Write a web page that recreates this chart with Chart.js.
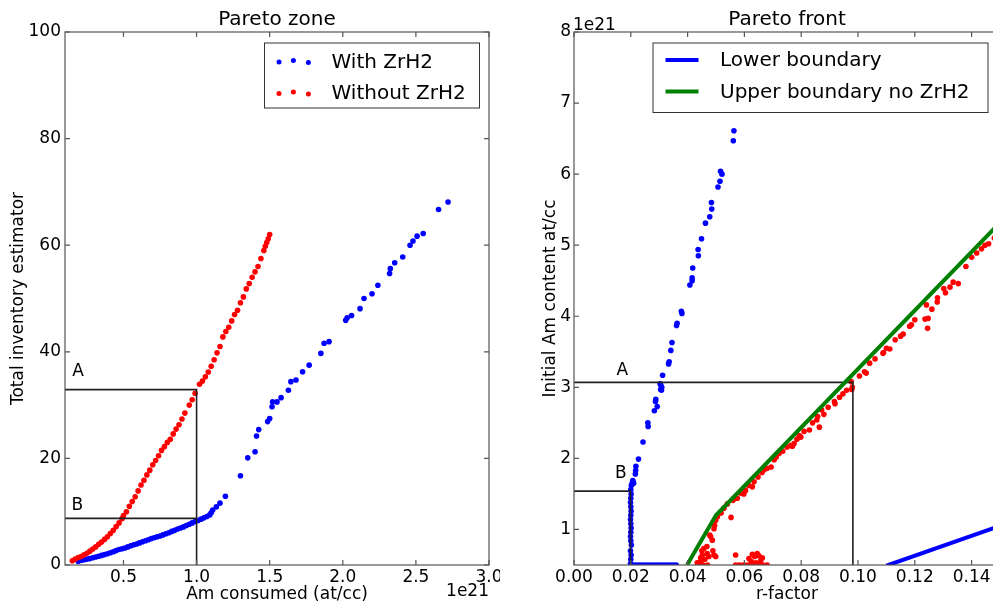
<!DOCTYPE html>
<html>
<head>
<meta charset="utf-8">
<script src="https://cdn.jsdelivr.net/npm/chart.js@4.4.0/dist/chart.umd.min.js"></script>
<style>
html, body { margin: 0; padding: 0; background: #fff; overflow: hidden; width: 993px; height: 601px; }
#zone { position: absolute; left: 0; top: 0; }
#front { position: absolute; left: 500px; top: 0; }
</style>
</head>
<body>
<canvas id="zone" width="500" height="601"></canvas>
<canvas id="front" width="520" height="601"></canvas>
<script>
//****** Pareto zone: Am consumed (x1e21) vs total inventory estimator ******
var withZrX = [0.19,0.21,0.23,0.25,0.27,0.29,0.31,0.33,0.35,0.37,0.39,0.41,0.43,0.45,0.47,0.49,0.51,0.53,0.55,0.57,
  0.59,0.61,0.63,0.65,0.67,0.69,0.71,0.73,0.75,0.77,0.79,0.81,0.83,0.85,0.87,0.89,0.91,0.93,0.95,0.97,
  0.99,1.01,1.03,1.05,1.07,1.09,1.10,1.11,1.135,1.16,1.197,1.30,1.35,1.40,1.41,1.425,1.486,1.50,1.516,1.52,
  1.55,1.578,1.628,1.645,1.68,1.725,1.77,1.85,1.872,1.906,2.02,2.03,2.06,2.118,2.145,2.20,2.24,2.32,2.325,2.355,
  2.41,2.46,2.48,2.508,2.55,2.655,2.72];
var withZrY = [0.7,0.85,1.0,1.1,1.2,1.35,1.5,1.65,1.8,1.95,2.1,2.3,2.5,2.7,2.9,3.05,3.2,3.4,3.6,3.8,
  3.95,4.15,4.35,4.55,4.75,4.95,5.1,5.3,5.45,5.65,5.85,6.05,6.3,6.5,6.75,6.95,7.15,7.4,7.65,7.9,
  8.15,8.35,8.6,8.85,9.1,9.4,9.8,10.3,10.9,11.6,12.9,16.75,20.1,21.25,24.2,25.4,26.9,27.5,29.7,30.6,
  30.6,31.4,32.8,34.4,34.7,36.25,37.5,39.7,41.6,41.9,45.9,46.4,46.8,48.1,50.0,50.9,52.5,54.7,55.6,56.7,
  57.8,60.0,60.8,61.7,62.2,66.7,68.1];

var noZrX = [0.15,0.17,0.19,0.21,0.23,0.25,0.27,0.29,0.31,0.33,0.35,0.37,0.39,0.41,0.43,0.45,0.47,0.49,0.50,0.52,
  0.54,0.56,0.58,0.60,0.62,0.64,0.66,0.68,0.70,0.72,0.74,0.76,0.78,0.80,0.82,0.84,0.86,0.88,0.90,0.92,
  0.95,0.97,0.99,1.02,1.04,1.06,1.08,1.10,1.12,1.14,1.16,1.18,1.20,1.22,1.24,1.26,1.28,1.30,1.32,1.34,
  1.36,1.38,1.40,1.42,1.44,1.46,1.47,1.48,1.49,1.50];
var noZrY = [0.8,1.1,1.4,1.6,1.9,2.2,2.6,3.0,3.4,3.9,4.3,4.8,5.3,5.9,6.5,7.2,7.9,8.7,9.3,10.0,
  11.0,11.9,12.8,13.9,15.0,15.9,16.9,17.8,18.8,19.6,20.5,21.5,22.2,23.0,23.6,24.6,25.5,26.3,27.4,28.5,
  30.0,31.0,32.2,33.9,34.5,35.3,36.2,37.3,38.5,39.8,41.0,42.8,43.8,44.6,45.8,47.0,47.8,49.2,50.3,51.8,
  52.8,54.0,55.0,56.0,57.5,59.0,59.8,60.5,61.2,62.0];

// marker lines A and B
var zoneAX = [0.1, 1.0, 1.0];
var zoneAY = [32.9, 32.9, 0];
var zoneBX = [0.1, 1.0];
var zoneBY = [8.75, 8.75];
var zoneLabelText = ['A', 'B'];
var zoneLabelX = [0.19, 0.185];
var zoneLabelY = [36.2, 11.1];

//****** Pareto front: r-factor vs initial Am content (x1e21) ******
var frontZrX = [0.0199,0.0200,0.0201,0.0199,0.0202,0.0200,0.0199,0.0200,0.0201,0.0200,0.0199,0.0200,0.0201,0.0200,0.0199,0.0200,0.0201,0.0200,0.0202,0.0205,
  0.0207,0.0208,0.0210,0.021,0.022,0.023,0.024,0.025,0.026,0.027,0.028,0.029,0.030,0.031,0.032,0.033,0.034,0.035,0.036,
  0.0216,0.0217,0.0218,0.0227,0.0243,0.0261,0.0260,0.0283,0.0293,0.0287,0.0288,0.0308,0.0305,0.0309,0.0306,0.0303,0.0312,0.0333,0.0335,0.0341,
  0.0345,0.0361,0.0363,0.0378,0.0380,0.0408,0.0416,0.0416,0.0418,0.0438,0.0437,0.0449,0.0463,0.0478,0.0485,0.0484,0.0507,0.0514,0.0521,0.0516,
  0.0561,0.0563];
var frontZrY = [0.52,0.58,0.64,0.70,0.78,0.84,0.90,0.96,1.02,1.08,1.14,1.20,1.26,1.32,1.38,1.44,1.50,1.56,1.62,1.65,
  1.69,1.67,1.65,0.5,0.5,0.5,0.5,0.5,0.5,0.5,0.5,0.5,0.5,0.5,0.5,0.5,0.5,0.5,0.5,
  1.78,1.83,1.89,1.99,2.23,2.45,2.50,2.67,2.73,2.80,2.83,2.96,2.97,3.00,3.03,3.05,3.17,3.33,3.36,3.52,
  3.63,3.87,3.90,4.07,4.04,4.44,4.50,4.54,4.68,4.85,4.94,5.09,5.31,5.40,5.51,5.60,5.82,5.90,6.00,6.04,
  6.47,6.61];

var frontNoZrX = [0.0434,0.0446,0.0452,0.0457,0.0469,0.0478,0.0481,0.0487,0.0493,0.0499,0.0493,0.0499,0.0518,0.0528,0.0553,0.0575,0.0587,0.0604,0.0628,0.0634,
  0.0662,0.0669,0.0694,0.0705,0.0722,0.0763,0.0769,0.0775,0.0793,0.0799,0.0829,0.0864,0.0855,0.0858,0.0872,0.0917,0.0919,0.0947,0.0976,0.0978,
  0.0980,0.1023,0.1029,0.1041,0.1088,0.1090,0.1112,0.1131,0.1159,0.1182,0.1188,0.1245,0.1236,0.1247,0.1241,0.1260,0.1279,0.1302,0.1308,0.1324,
  0.1335,0.1353,0.1400,0.1418,0.1435,0.1447,
  0.0446,0.0450,0.0461,0.0468,0.0475,0.0489,0.0495,0.0505,
  0.0441,0.0455,0.0470,0.0569,0.0582,0.0596,0.0610,0.0624,0.0638,0.0652,0.0666,0.0680,
  0.0569,0.0616,0.0628,0.0636,0.0645,0.0651,0.0657,0.0663,0.0640,0.0624,
  0.0540,0.0560,0.0598,0.0615,0.0648,0.0680,0.0712,0.0735,0.0750,0.0785,0.0810,0.0840,0.0880,0.0895,0.0935,0.0960,0.1005,0.1060,0.1100,0.1150,
  0.1200,0.1280,0.1380,0.1460,0.1480];
var frontNoZrY = [0.53,0.55,0.64,0.73,0.66,0.92,0.90,0.85,0.64,0.62,1.01,1.13,1.23,1.30,1.17,1.44,1.51,1.55,1.60,1.67,
  1.80,1.84,1.88,1.98,2.07,2.18,2.17,2.21,2.32,2.30,2.40,2.44,2.54,2.59,2.68,2.80,2.77,2.91,3.08,2.97,
  3.00,3.22,3.20,3.34,3.48,3.49,3.54,3.67,3.75,3.86,3.88,3.83,3.96,3.97,4.16,4.10,4.20,4.39,4.33,4.41,
  4.48,4.46,4.83,4.89,4.95,5.00,
  0.60,0.70,0.58,0.76,0.62,0.70,1.06,1.18,
  0.5,0.5,0.5,0.5,0.5,0.5,0.5,0.5,0.5,0.5,0.5,0.5,
  0.64,0.59,0.65,0.62,0.66,0.63,0.56,0.60,0.53,0.55,
  1.36,1.41,1.50,1.62,1.74,1.86,2.02,2.10,2.16,2.27,2.38,2.50,2.62,2.72,2.86,2.96,3.16,3.40,3.55,3.72,
  3.95,4.26,4.70,5.02,5.10];

var lowerX = [0.11, 0.16];
var lowerY = [0.49, 1.19];
var upperX = [0.0398, 0.05, 0.16];
var upperY = [0.5, 1.2, 5.73];

var frontAX = [0, 0.0982, 0.0982];
var frontAY = [3.07, 3.07, 0.5];
var frontBX = [0, 0.0199, 0.0199];
var frontBY = [1.54, 1.54, 0.5];
var frontLabelText = ['A', 'B'];
var frontLabelX = [0.017, 0.0165];
var frontLabelY = [3.23, 1.79];

Chart.defaults.font.family = '"DejaVu Sans", sans-serif';
Chart.defaults.color = '#000';

function pts(xs, ys) {
  return xs.map(function(x, i) { return {x: x, y: ys[i]}; });
}

// box round the axes plus inward tick marks, like matplotlib
var frame = {
  id: 'frame',
  afterDraw: function(chart) {
    var ctx = chart.ctx, a = chart.chartArea;
    var sx = chart.scales.x, sy = chart.scales.y;
    ctx.save();
    ctx.strokeStyle = '#555';
    ctx.lineWidth = 1.2;
    ctx.strokeRect(a.left, a.top, a.right - a.left, a.bottom - a.top);
    ctx.beginPath();
    sx.ticks.forEach(function(t) {
      var p = sx.getPixelForValue(t.value);
      ctx.moveTo(p, a.bottom); ctx.lineTo(p, a.bottom - 5);
      ctx.moveTo(p, a.top); ctx.lineTo(p, a.top + 5);
    });
    sy.ticks.forEach(function(t) {
      var p = sy.getPixelForValue(t.value);
      ctx.moveTo(a.left, p); ctx.lineTo(a.left + 5, p);
      ctx.moveTo(a.right, p); ctx.lineTo(a.right - 5, p);
    });
    ctx.stroke();
    ctx.restore();
  }
};

// letters A/B, the 1e21 offset text and the boxed legend
function annot(cfg) {
  return {
    id: 'annot',
    afterDraw: function(chart) {
      var ctx = chart.ctx, a = chart.chartArea;
      var sx = chart.scales.x, sy = chart.scales.y;
      ctx.save();
      ctx.fillStyle = '#000';
      ctx.font = '17px "DejaVu Sans"';
      ctx.textAlign = 'center';
      ctx.textBaseline = 'middle';
      cfg.text.forEach(function(t, i) {
        ctx.fillText(t, sx.getPixelForValue(cfg.tx[i]), sy.getPixelForValue(cfg.ty[i]));
      });
      ctx.textBaseline = 'alphabetic';
      if (cfg.offsetPos === 'bottom') {
        ctx.textAlign = 'right';
        ctx.fillText('1e21', a.right, a.bottom + 31);
      } else {
        ctx.textAlign = 'left';
        ctx.fillText('1e21', a.left - 1, a.top - 2);
      }
      // legend
      var w = cfg.legendW, h = cfg.legendH;
      var x0 = a.right - cfg.legendGap - w, y0 = a.top + 10.5;
      ctx.fillStyle = '#fff';
      ctx.fillRect(x0, y0, w, h);
      ctx.strokeStyle = '#333';
      ctx.lineWidth = 1;
      ctx.strokeRect(x0 + 0.5, y0 + 0.5, w, h);
      ctx.font = '20px "DejaVu Sans"';
      ctx.textAlign = 'left';
      ctx.textBaseline = 'middle';
      cfg.items.forEach(function(it, i) {
        var y = y0 + cfg.rowTop + i * 31.5;
        if (it.dots) {
          ctx.fillStyle = it.color;
          [[15, 0.5], [29.4, -1], [44.4, 1]].forEach(function(d) {
            ctx.beginPath();
            ctx.arc(x0 + d[0], y + d[1], 2.5, 0, Math.PI * 2);
            ctx.fill();
          });
        } else {
          ctx.strokeStyle = it.color;
          ctx.lineWidth = 4;
          ctx.beginPath();
          ctx.moveTo(x0 + 13, y); ctx.lineTo(x0 + 46, y);
          ctx.stroke();
        }
        ctx.fillStyle = '#000';
        ctx.fillText(it.label, x0 + 67.5, y + 1);
      });
      ctx.restore();
    }
  };
}

var tickFont = {size: 17};
var titleFont = {size: 17, lineHeight: 1};

/****** Pareto zone ******/
var ctx = document.getElementById('zone').getContext('2d');
var zoneChart = new Chart(ctx, {
  type: 'scatter',
  data: {
    datasets: [
      {label: 'A', data: pts(zoneAX, zoneAY), showLine: true, borderColor: '#222', borderWidth: 1.6, pointRadius: 0, order: 0},
      {label: 'B', data: pts(zoneBX, zoneBY), showLine: true, borderColor: '#222', borderWidth: 1.6, pointRadius: 0, order: 0},
      {label: 'Without ZrH2', data: pts(noZrX, noZrY), backgroundColor: '#ff0000', borderWidth: 0, pointRadius: 2.8, clip: 0, order: 1},
      {label: 'With ZrH2', data: pts(withZrX, withZrY), backgroundColor: '#0000ff', borderWidth: 0, pointRadius: 2.8, clip: 0, order: 2}
    ]
  },
  options: {
    responsive: false,
    animation: false,
    layout: {padding: {left: 0, right: 11, top: 0, bottom: 0}},
    scales: {
      x: {
        type: 'linear', min: 0.1, max: 3.0,
        grid: {display: false, drawTicks: false}, border: {display: false},
        ticks: {stepSize: 0.5, includeBounds: false, padding: 2, font: tickFont, maxRotation: 0, autoSkip: false,
          callback: function(v) { return v.toFixed(1); }},
        title: {display: true, text: 'Am consumed (at/cc)', font: titleFont, padding: {top: 0, bottom: -2}},
        afterFit: function(s) { s.height = 36; s.paddingLeft = 0; s.paddingRight = 0; }
      },
      y: {
        min: 0, max: 100,
        grid: {display: false, drawTicks: false}, border: {display: false},
        ticks: {stepSize: 20, padding: 4, font: tickFont},
        title: {display: true, text: 'Total inventory estimator', font: titleFont, padding: {top: 10, bottom: 0}},
        afterFit: function(s) { s.width = 65; }
      }
    },
    plugins: {
      legend: {display: false},
      tooltip: {enabled: false},
      title: {display: true, text: 'Pareto zone', fullSize: false, font: {size: 20, weight: 'normal'}, color: '#000',
        padding: {top: 8, bottom: 0}}
    }
  },
  plugins: [frame, annot({
    text: zoneLabelText, tx: zoneLabelX, ty: zoneLabelY, offsetPos: 'bottom',
    legendW: 215, legendH: 65, legendGap: 10, rowTop: 19,
    items: [{label: 'With ZrH2', color: '#0000ff', dots: true}, {label: 'Without ZrH2', color: '#ff0000', dots: true}]
  })]
});

/****** Pareto front ******/
var ctx = document.getElementById('front').getContext('2d');
var frontChart = new Chart(ctx, {
  type: 'scatter',
  data: {
    datasets: [
      {label: 'Lower boundary', data: pts(lowerX, lowerY), showLine: true, borderColor: '#0000ff', borderWidth: 4, pointRadius: 0, clip: 0, order: 0},
      {label: 'Upper boundary no ZrH2', data: pts(upperX, upperY), showLine: true, borderColor: '#008000', borderWidth: 4, pointRadius: 0, clip: 0, order: 0},
      {label: 'A', data: pts(frontAX, frontAY), showLine: true, borderColor: '#222', borderWidth: 1.6, pointRadius: 0, order: 1},
      {label: 'B', data: pts(frontBX, frontBY), showLine: true, borderColor: '#222', borderWidth: 1.6, pointRadius: 0, order: 1},
      {label: 'no ZrH2', data: pts(frontNoZrX, frontNoZrY), backgroundColor: '#ff0000', borderWidth: 0, pointRadius: 2.8, clip: 0, order: 2},
      {label: 'ZrH2', data: pts(frontZrX, frontZrY), backgroundColor: '#0000ff', borderWidth: 0, pointRadius: 2.8, clip: 0, order: 2}
    ]
  },
  options: {
    responsive: false,
    animation: false,
    layout: {padding: {left: 0, right: 20, top: 0, bottom: 0}},
    scales: {
      x: {
        type: 'linear', min: 0, max: 0.15,
        grid: {display: false, drawTicks: false}, border: {display: false},
        ticks: {stepSize: 0.02, includeBounds: false, padding: 2, font: tickFont, maxRotation: 0, autoSkip: false,
          callback: function(v) { return v.toFixed(2); }},
        title: {display: true, text: 'r-factor', font: titleFont, padding: {top: 0, bottom: -2}},
        afterFit: function(s) { s.height = 36; s.paddingLeft = 0; s.paddingRight = 0; }
      },
      y: {
        min: 0.5, max: 8,
        grid: {display: false, drawTicks: false}, border: {display: false},
        ticks: {stepSize: 1, includeBounds: false, padding: 3, font: tickFont},
        title: {display: true, text: 'Initial Am content at/cc', font: titleFont, padding: {top: 42, bottom: 0}},
        afterFit: function(s) { s.width = 74; }
      }
    },
    plugins: {
      legend: {display: false},
      tooltip: {enabled: false},
      title: {display: true, text: 'Pareto front', fullSize: false, font: {size: 20, weight: 'normal'}, color: '#000',
        padding: {top: 8, bottom: 0}}
    }
  },
  plugins: [frame, annot({
    text: frontLabelText, tx: frontLabelX, ty: frontLabelY, offsetPos: 'top',
    legendW: 335, legendH: 69.5, legendGap: 12.5, rowTop: 17.6,
    items: [{label: 'Lower boundary', color: '#0000ff'}, {label: 'Upper boundary no ZrH2', color: '#008000'}]
  })]
});
</script>
</body>
</html>
